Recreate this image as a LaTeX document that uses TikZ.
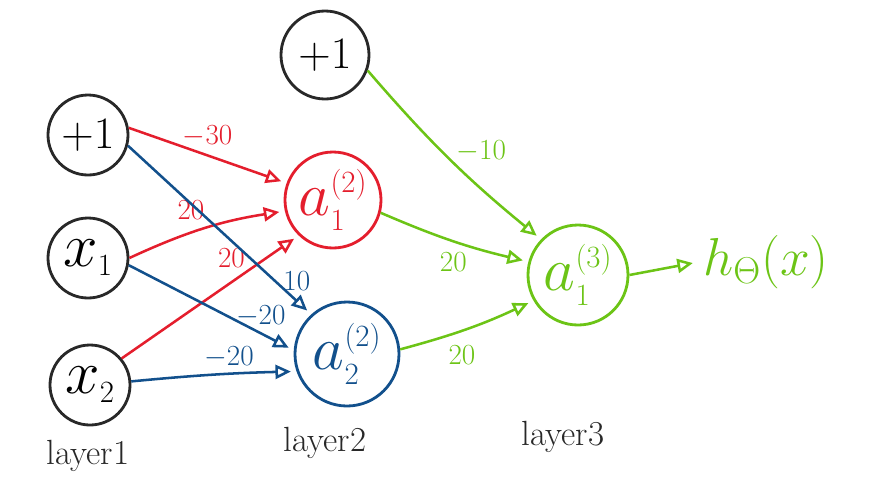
\documentclass[tikz,border=0pt]{standalone}
\usepackage{fix-cm}
\usepackage{xcolor}
\usepackage{tikz}
\usetikzlibrary{shapes.geometric, arrows, arrows.meta, positioning, calc}
\definecolor{inkred}{RGB}{228, 30, 45}
\definecolor{inkblue}{RGB}{18, 80, 140}
\definecolor{inkgreen}{RGB}{108, 196, 22}
\definecolor{inkdark}{RGB}{40, 40, 40}

\tikzset{
    unit/.style={circle, draw=inkdark, line width=2pt, inner sep=0pt, font=\fontsize{32}{36}\selectfont},
    bigunit/.style={unit, font=\fontsize{44}{48}\selectfont},
    wlabel/.style={font=\huge},
    link/.style={line width=1.8pt, -{Triangle[open, length=11pt, width=10pt]}, shorten >=4pt},
    layerlabel/.style={font=\Huge, text=inkdark}
}

\begin{document}
\begin{tikzpicture}
    \useasboundingbox (0,0) rectangle (22.075,-12.575);

    % layer 1
    \node[unit, minimum size=2cm] (in0) at (2.2,-3.375) {$+1$};
    \node[bigunit, minimum size=2cm] (in1) at (2.2,-6.45) {$x_{\scriptscriptstyle 1}$};
    \node[bigunit, minimum size=2cm] (in2) at (2.25,-9.625) {$x_{\scriptscriptstyle 2}$};

    % layer 2
    \node[unit, minimum size=2.2cm] (hb) at (8.125,-1.375) {$+1$};
    \node[bigunit, minimum size=2.4cm, draw=inkred, text=inkred] (a12) at (8.325,-5.0) {$a_{\scriptscriptstyle 1}^{\scriptscriptstyle (2)}$};
    \node[bigunit, minimum size=2.6cm, draw=inkblue, text=inkblue] (a22) at (8.675,-8.85) {$a_{\scriptscriptstyle 2}^{\scriptscriptstyle (2)}$};

    % layer 3
    \node[bigunit, minimum size=2.5cm, draw=inkgreen, text=inkgreen] (a13) at (14.45,-6.875) {$a_{\scriptscriptstyle 1}^{\scriptscriptstyle (3)}$};
    \node[text=inkgreen, font=\fontsize{38}{44}\selectfont] (hout) at (19.15,-6.55) {$h_\Theta(x)$};

    % red weights
    \draw[link, inkred] (in0.10) -- (a12.160) node[wlabel, midway, above=2pt] {$-30$};
    \draw[link, inkred] (in1.east) to[bend left=8] node[wlabel, pos=0.4, above=5pt] {20} (a12.193);
    \draw[link, inkred] (in2.40) -- (a12.226) node[wlabel, pos=0.62, above=6pt] {20};

    % blue weights
    \draw[link, inkblue] (in0.-15) -- (a22.132) node[wlabel, pos=0.8, right=2pt] {10};
    \draw[link, inkblue] (in1.-10) -- (a22.176) node[wlabel, pos=0.8, above=0pt] {$-20$};
    \draw[link, inkblue] (in2.5) to[bend left=2] node[wlabel, pos=0.6, above=0pt] {$-20$} (a22.199);

    % green weights
    \draw[link, inkgreen] (hb.-20) to[bend right=5] node[wlabel, pos=0.45, right=6pt] {$-10$} (a13.136);
    \draw[link, inkgreen] (a12.-15) to[bend right=5] node[wlabel, midway, below=4pt] {20} (a13.165);
    \draw[link, inkgreen] (a22.5) to[bend right=5] node[wlabel, pos=0.45, below=6pt] {20} (a13.210);
    \draw[link, inkgreen] (a13.east) -- (hout.west);

    % layer names
    \node[layerlabel] (lay1) at (2.2,-11.4) {layer1};
    \node[layerlabel] (lay2) at (8.125,-11.075) {layer2};
    \node[layerlabel] (lay3) at (14.075,-10.925) {layer3};
\end{tikzpicture}
\end{document}
